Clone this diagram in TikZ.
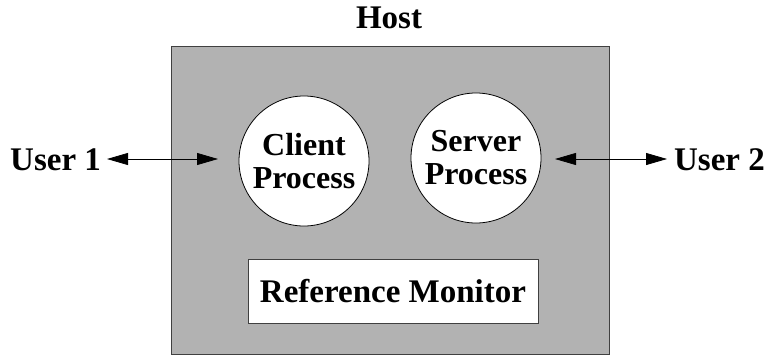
\documentclass[tikz,border=0pt]{standalone}
\usepackage{fontspec}
\setmainfont{Liberation Serif}
\usetikzlibrary{arrows.meta}
\begin{document}
\begin{tikzpicture}[x=1pt,y=-1pt,
  lbl/.style={font=\fontsize{33}{33}\selectfont\bfseries, inner sep=0pt},
  hostbox/.style={draw=black!75, line width=1pt, fill=black!30, inner sep=0pt, anchor=north west},
  proc/.style={circle, draw=black, line width=0.8pt, fill=white, minimum size=130pt, inner sep=0pt, align=center, font=\fontsize{32}{33}\selectfont\bfseries},
  monbox/.style={draw=black!75, line width=1pt, fill=white, inner sep=0pt, minimum width=290pt, minimum height=64pt, font=\fontsize{33}{33}\selectfont\bfseries},
  link/.style={line width=0.8pt, {Triangle[length=21pt,width=12pt]}-{Triangle[length=21pt,width=12pt]}}
]
\useasboundingbox (0,0) rectangle (768,356);
\node[hostbox, minimum width=438pt, minimum height=308pt] (host) at (171,46) {};
\node[lbl, anchor=base] (hostlbl) at (389,28) {Host};
\node[proc] (client) at (304,161) {Client\\Process};
\node[proc] (server) at (476,158) {Server\\Process};
\node[monbox] (mon) at (393,291) {Reference Monitor};
\node[lbl, anchor=base west] (u1) at (10,170) {User 1};
\node[lbl, anchor=base east] (u2) at (765,170) {User 2};
\coordinate (a1) at (107,159);
\coordinate (b1) at (218,159);
\coordinate (a2) at (555,159);
\coordinate (b2) at (667,159);
\draw[link] (a1) -- (b1);
\draw[link] (a2) -- (b2);
\end{tikzpicture}
\end{document}
